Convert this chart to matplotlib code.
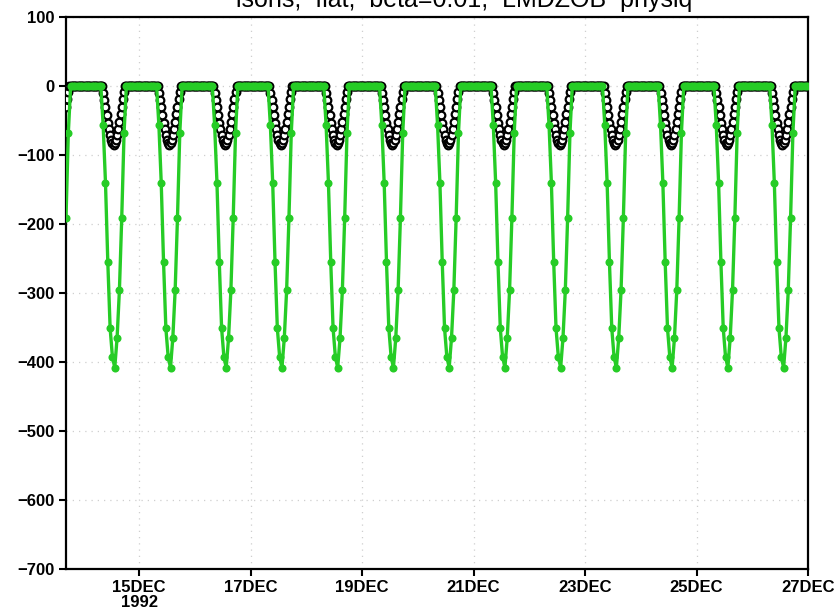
import matplotlib
matplotlib.use("Agg")
import matplotlib.pyplot as plt
import numpy as np

plt.rcParams['font.family'] = ['Liberation Sans', 'DejaVu Sans']

# one day of values, hour by hour (hh:30) for the green run
green_day = [0, 0, 0, 0, 0, 0, 0, 0,
             -57, -140, -255, -351, -393, -408, -365, -296, -191, -68,
             0, 0, 0, 0, 0, 0]
# half-hourly (hh:00, hh:30) for the black run
black_day = [0] * 16 + [0, -10, -20, -31, -42, -53, -62, -71, -78, -83,
                        -86, -83, -78, -71, -62, -52, -41, -30, -19, -9,
                        0] + [0] * 11

start_day = 13 + 16.5 / 24          # 13 DEC 1992 16:30
end_day = 27.0
n_days = 14

green_t = 13 + (np.arange(24 * n_days) + 0.5) / 24
green_v = np.tile(green_day, n_days)
black_t = 13 + np.arange(48 * n_days) / 48
black_v = np.tile(black_day, n_days)

keep_g = (green_t >= start_day - 1e-9) & (green_t < end_day)
keep_b = (black_t >= start_day - 1e-9) & (black_t < end_day)

tick_days = [15, 17, 19, 21, 23, 25, 27]
tick_labels = ["15DEC\n1992", "17DEC", "19DEC", "21DEC", "23DEC", "25DEC", "27DEC"]
y_ticks = np.arange(-700, 101, 100)

fig = plt.figure(figsize=(8.4, 6.13), dpi=100)
ax = fig.add_axes([66 / 840, 1 - 569 / 613, (808 - 66) / 840, (569 - 17) / 613])

ax.plot(black_t[keep_b], black_v[keep_b], '-o', color='black', lw=1.6,
        markersize=5.5, markerfacecolor='white', markeredgewidth=1.6, zorder=3)
ax.plot(green_t[keep_g], green_v[keep_g], '-o', color='#26cc26', lw=2.4,
        markersize=5.8, markeredgewidth=0, zorder=4)

ax.set_xlim(start_day, end_day)
ax.set_ylim(-700, 100)
ax.set_xticks(tick_days)
ax.set_xticklabels(tick_labels, fontweight='bold', fontsize=12, linespacing=0.95)
ax.set_yticks(y_ticks)
ax.set_yticklabels([f"{v}".replace("-", "\u2212") for v in y_ticks],
                   fontweight='bold', fontsize=12)
ax.tick_params(direction='out', length=5, width=1.5, pad=3)
ax.grid(True, linestyle=(0, (1, 4)), color='#cfcfcf', lw=0.9)
for s in ax.spines.values():
    s.set_linewidth(1.6)

fig.text(464 / 840, 1 - 7 / 613, "isons,  flat,  beta=0.01,  LMDZOB  physiq",
         ha='center', va='baseline', fontsize=18)

fig.savefig("out.png", dpi=100)
